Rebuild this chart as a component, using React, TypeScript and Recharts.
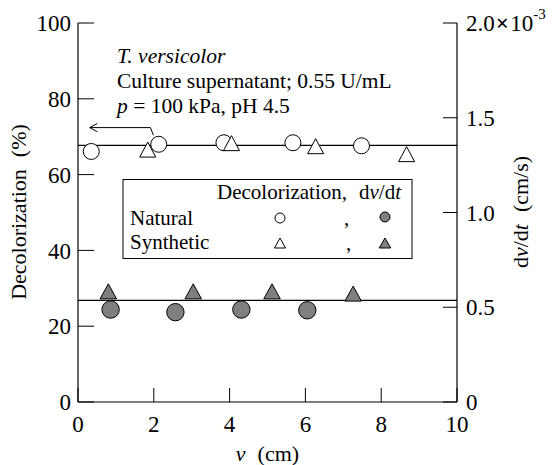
import React from 'react';
import {
  ComposedChart,
  Scatter,
  XAxis,
  YAxis,
  ReferenceLine,
} from 'recharts';

// Decolorization (%) against v (cm)
const vNatural = [0.35, 2.13, 3.85, 5.67, 7.48];
const decolNatural = [66.1, 68.0, 68.4, 68.4, 67.6];
const vSynthetic = [1.84, 4.05, 6.27, 8.67];
const decolSynthetic = [66.6, 68.3, 67.5, 65.4];

// dv/dt in units of 10^-3 cm/s against v (cm)
const vRateNatural = [0.86, 2.57, 4.31, 6.05];
const rateNatural = [0.488, 0.474, 0.488, 0.484];
const vRateSynthetic = [0.8, 3.04, 5.12, 7.26];
const rateSynthetic = [0.584, 0.584, 0.584, 0.572];

// Mean levels drawn as horizontal lines
const decolMean = 67.7;
const rateMean = 0.536;

// Axis ticks
const xTicks = [0, 2, 4, 6, 8, 10];
const xTopTicks = [2, 4, 6, 8];
const leftTicks = [0, 20, 40, 60, 80, 100];
const rightTicks = [0, 0.5, 1.0, 1.5, 2.0];

// Arrow paths in data coordinates
const leftArrow = { tip: { x: 0.31, y: 72.4 }, corner: { x: 1.91, y: 72.4 }, end: { x: 1.99, y: 70.4 } };
const rightArrow = { start: { x: 7.5, y: 29.6 }, corner: { x: 7.64, y: 31.2 }, tip: { x: 9.12, y: 31.2 } };

const zip = (xs: number[], ys: number[]) => xs.map((v, i) => ({ v, y: ys[i] }));

const natDecol = zip(vNatural, decolNatural);
const synDecol = zip(vSynthetic, decolSynthetic);
const natRate = zip(vRateNatural, rateNatural);
const synRate = zip(vRateSynthetic, rateSynthetic);

const FONT = 'Liberation Serif';
const GREY = '#7f7f7f';

const W = 558;
const H = 465;

const OpenCircle = (p: any) => (
  <circle cx={p.cx} cy={p.cy} r={8} fill="#fff" stroke="#000" strokeWidth={1} />
);
const FilledCircle = (p: any) => (
  <circle cx={p.cx} cy={p.cy} r={8.7} fill={GREY} stroke="#000" strokeWidth={1} />
);
const triPath = (cx: number, cy: number, w: number, h: number) =>
  `M${cx},${cy - h / 2}L${cx + w / 2},${cy + h / 2}L${cx - w / 2},${cy + h / 2}Z`;
const OpenTriangle = (p: any) => (
  <path d={triPath(p.cx, p.cy, 16, 15)} fill="#fff" stroke="#000" strokeWidth={1} />
);
const FilledTriangle = (p: any) => (
  <path d={triPath(p.cx, p.cy, 16.5, 15)} fill={GREY} stroke="#000" strokeWidth={1} />
);

const RightTick = (p: any) => {
  const v = p.payload.value as number;
  const label = v === 0 ? '0' : v.toFixed(1);
  return (
    <text x={p.x} y={p.y} dy="0.355em" textAnchor="start" fontFamily={FONT} fontSize={23} fill="#000">
      {label}
      {v === 2 && (
        <>
          <tspan dx={1} fontWeight="bold">×</tspan>
          <tspan dx={1.5}>10</tspan>
          <tspan dy={-12} fontSize={15}>-3</tspan>
        </>
      )}
    </text>
  );
};

const arrowSegments = (yId: string, pts: { x: number; y: number }[], key: string) =>
  pts.slice(1).map((pt, i) => (
    <ReferenceLine
      key={`${key}-${i}`}
      yAxisId={yId}
      segment={[pts[i], pt]}
      stroke="#000"
      strokeWidth={1}
      ifOverflow="visible"
    />
  ));

const chevron = (yId: string, tip: { x: number; y: number }, dir: number, key: string) => {
  // open arrowhead: two short strokes back from the tip
  const dx = 0.2 * dir;
  const dy = yId === 'left' ? 1.1 : 0.022;
  return [
    <ReferenceLine key={`${key}-a`} yAxisId={yId} segment={[tip, { x: tip.x + dx, y: tip.y + dy }]} stroke="#000" strokeWidth={1} ifOverflow="visible" />,
    <ReferenceLine key={`${key}-b`} yAxisId={yId} segment={[tip, { x: tip.x + dx, y: tip.y - dy }]} stroke="#000" strokeWidth={1} ifOverflow="visible" />,
  ];
};

export default function App() {
  return (
    <div style={{ position: 'absolute', left: 0, top: 0, width: W, height: H, background: '#fff', fontFamily: FONT }}>
      <ComposedChart
        width={W}
        height={H}
        margin={{ top: 23, right: 0, bottom: 0, left: 0 }}
      >
        <XAxis
          dataKey="v"
          type="number"
          domain={[0, 10]}
          ticks={xTicks}
          height={63}
          tickSize={-14}
          tickMargin={28}
          axisLine={{ stroke: '#000', strokeWidth: 1.2 }}
          tickLine={{ stroke: '#000', strokeWidth: 1 }}
          tick={{ fontSize: 23, fill: '#000', fontFamily: FONT }}
          interval={0}
          allowDataOverflow
        />
        <XAxis
          xAxisId="top"
          orientation="top"
          type="number"
          domain={[0, 10]}
          ticks={xTopTicks}
          height={0}
          tickSize={-14}
          tickFormatter={() => ''}
          axisLine={{ stroke: '#000', strokeWidth: 1.2 }}
          tickLine={{ stroke: '#000', strokeWidth: 1 }}
          interval={0}
        />
        <YAxis
          yAxisId="left"
          type="number"
          domain={[0, 100]}
          ticks={leftTicks}
          width={78}
          tickSize={-16}
          tickMargin={23}
          axisLine={{ stroke: '#000', strokeWidth: 1.2 }}
          tickLine={{ stroke: '#000', strokeWidth: 1 }}
          tick={{ fontSize: 23, fill: '#000', fontFamily: FONT }}
          interval={0}
        />
        <YAxis
          yAxisId="right"
          orientation="right"
          type="number"
          domain={[0, 2]}
          ticks={rightTicks}
          width={101}
          tickSize={-14}
          tickMargin={23}
          axisLine={{ stroke: '#000', strokeWidth: 1.2 }}
          tickLine={{ stroke: '#000', strokeWidth: 1 }}
          tick={<RightTick />}
          interval={0}
        />

        <ReferenceLine yAxisId="left" y={decolMean} stroke="#000" strokeWidth={1.2} />
        <ReferenceLine yAxisId="right" y={rateMean} stroke="#000" strokeWidth={1.2} />

        {arrowSegments('left', [leftArrow.tip, leftArrow.corner, leftArrow.end], 'la')}
        {chevron('left', leftArrow.tip, 1, 'lah')}
        {arrowSegments('right', [rightArrow.start, rightArrow.corner, rightArrow.tip], 'ra')}
        {chevron('right', rightArrow.tip, -1, 'rah')}

        <Scatter name="Natural, dv/dt" data={natRate} dataKey="y" yAxisId="right" shape={FilledCircle} isAnimationActive={false} />
        <Scatter name="Synthetic, dv/dt" data={synRate} dataKey="y" yAxisId="right" shape={FilledTriangle} isAnimationActive={false} />
        <Scatter name="Natural, decolorization" data={natDecol} dataKey="y" yAxisId="left" shape={OpenCircle} isAnimationActive={false} />
        <Scatter name="Synthetic, decolorization" data={synDecol} dataKey="y" yAxisId="left" shape={OpenTriangle} isAnimationActive={false} />
      </ComposedChart>

      {/* titles, annotation and legend box */}
      <svg
        width={W}
        height={H}
        fill="#000"
        style={{ position: 'absolute', left: 0, top: 0, pointerEvents: 'none' }}
      >
        <text x={18} y={212} transform="rotate(-90 18 212)" textAnchor="middle" dominantBaseline="central" fontSize={22} fontFamily={FONT}>
          Decolorization<tspan dx={12}>(%)</tspan>
        </text>
        <text x={520} y={212} transform="rotate(-90 520 212)" textAnchor="middle" dominantBaseline="central" fontSize={22} fontFamily={FONT}>
          d<tspan fontStyle="italic">v</tspan>/d<tspan fontStyle="italic">t</tspan>
          <tspan dx={12}>(cm/s)</tspan>
        </text>
        <text x={267.5} y={461} textAnchor="middle" fontSize={22} fontFamily={FONT}>
          <tspan fontStyle="italic">v</tspan>
          <tspan dx={12}>(cm)</tspan>
        </text>

        <text x={117} y={63} fontSize={21.5} fontStyle="italic" fontFamily={FONT}>T. versicolor</text>
        <text x={117} y={88} fontSize={21.5} fontFamily={FONT}>Culture supernatant; 0.55 U/mL</text>
        <text x={117} y={113} fontSize={21.5} fontFamily={FONT}>
          <tspan fontStyle="italic">p</tspan> = 100 kPa, pH 4.5
        </text>

        <rect x={123} y={179.5} width={289} height={79} fill="#fff" stroke="#000" strokeWidth={1} />
        <text x={217} y={199} fontSize={21} fontFamily={FONT}>
          Decolorization,<tspan dx={12}>d</tspan>
          <tspan fontStyle="italic">v</tspan>/d<tspan fontStyle="italic">t</tspan>
        </text>
        <text x={130} y={225} fontSize={21} fontFamily={FONT}>Natural</text>
        <text x={130} y={249} fontSize={21} fontFamily={FONT}>Synthetic</text>
        <circle cx={280} cy={218} r={5} fill="#fff" stroke="#000" strokeWidth={1} />
        <text x={344} y={225} fontSize={21} fontFamily={FONT}>,</text>
        <circle cx={385} cy={217} r={5} fill={GREY} stroke="#000" strokeWidth={1} />
        <path d={triPath(280, 243, 11, 10)} fill="#fff" stroke="#000" strokeWidth={1} />
        <text x={346} y={250} fontSize={21} fontFamily={FONT}>,</text>
        <path d={triPath(385, 243, 11.5, 10)} fill={GREY} stroke="#000" strokeWidth={1} />
      </svg>
    </div>
  );
}
